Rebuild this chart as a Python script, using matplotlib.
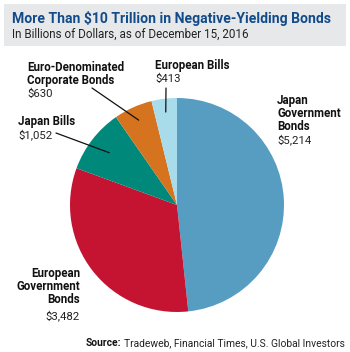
import numpy as np
import matplotlib
matplotlib.use("Agg")
import matplotlib.pyplot as plt
from matplotlib.patches import Rectangle

# data (billions of dollars, as of Dec 15, 2016)
categories = ["Japan\nGovernment\nBonds", "European\nGovernment\nBonds", "Japan Bills",
              "Euro-Denominated\nCorporate Bonds", "European Bills"]
values = [5214, 3482, 1052, 630, 413]
value_labels = ["$5,214", "$3,482", "$1,052", "$630", "$413"]
colors = ["#579dc2", "#c51432", "#00897a", "#d5731f", "#a9dceb"]

W, H = 350, 352
fig = plt.figure(figsize=(W / 100, H / 100), dpi=100)
fig.patch.set_facecolor("white")

def fx(x):
    return x / W

def fy(y):
    return 1 - y / H

# header band
fig.patches.append(Rectangle((fx(4), fy(46)), fx(342), 42 / H, transform=fig.transFigure,
                             facecolor="#e7e8e9", edgecolor="none", zorder=0))

bold_font = ["Roboto", "DejaVu Sans"]
reg_font = ["Roboto", "DejaVu Sans"]

fig.text(fx(12), fy(19), "More Than $10 Trillion in Negative-Yielding Bonds", family=bold_font,
         fontweight="bold", fontsize=10.1, color="#124b8a", va="center", ha="left")
fig.text(fx(12), fy(34), "In Billions of Dollars, as of December 15, 2016", family=reg_font,
         fontsize=8.4, color="#222222", va="center", ha="left")

# pie
cx, cy, r = 177, 205, 107
ax = fig.add_axes([fx(cx - r), fy(cy + r), 2 * r / W, 2 * r / H])
wedges, _ = ax.pie(values, colors=colors, startangle=90, counterclock=False,
                   wedgeprops=dict(linewidth=0))
ax.set_xlim(-1, 1)
ax.set_ylim(-1, 1)
ax.set_aspect("equal")
ax.axis("off")

def mid_point(i, frac):
    w = wedges[i]
    ang = np.deg2rad((w.theta1 + w.theta2) / 2)
    return frac * np.cos(ang), frac * np.sin(ang)

name_kw = dict(family=bold_font, fontweight="bold", fontsize=8.3, color="#111111",
               linespacing=1.02)
val_kw = dict(family=reg_font, fontsize=8.2, color="#222222")

# Japan Government Bonds
fig.text(fx(277), fy(94), categories[0], va="top", ha="left", **name_kw)
fig.text(fx(277), fy(140), value_labels[0], va="center", ha="left", **val_kw)

# European Government Bonds (right-aligned, one line at a time)
for k, line in enumerate(categories[1].split("\n")):
    fig.text(fx(80), fy(273 + 13.3 * k), line, va="center", ha="right", **name_kw)
fig.text(fx(80), fy(316), value_labels[1], va="center", ha="right", **val_kw)

# Japan Bills
fig.text(fx(18), fy(121), categories[2], va="center", ha="left", **name_kw)
fig.text(fx(18), fy(135), value_labels[2], va="center", ha="left", **val_kw)

# Euro-Denominated Corporate Bonds
fig.text(fx(27), fy(61), categories[3], va="top", ha="left", **name_kw)
fig.text(fx(27), fy(94), value_labels[3], va="center", ha="left", **val_kw)

# European Bills
fig.text(fx(155), fy(65), categories[4], va="center", ha="left", **name_kw)
fig.text(fx(155), fy(79), value_labels[4], va="center", ha="left", **val_kw)

# leader lines
leaders = [(2, 0.80, (56, 133)), (3, 0.87, (92, 88)), (4, 0.875, (166, 88))]
for i, frac, (px, py) in leaders:
    ax.annotate("", xy=mid_point(i, frac), xycoords="data",
                xytext=(fx(px), fy(py)), textcoords="figure fraction",
                arrowprops=dict(arrowstyle="-", color="#111111", lw=0.9,
                                shrinkA=0, shrinkB=0))

# source line: regular text right-aligned, bold "Source:" placed just before it
rest = fig.text(fx(345), fy(343), "Tradeweb, Financial Times, U.S. Global Investors",
                family=reg_font, fontsize=7.4, color="#222222", ha="right", va="center")
fig.canvas.draw()
bb = rest.get_window_extent()
fig.text((bb.x0 - 3) / W, fy(343), "Source:", family=reg_font, fontweight="bold",
         fontsize=7.4, color="#111111", ha="right", va="center")

fig.savefig("out.png", dpi=100)
